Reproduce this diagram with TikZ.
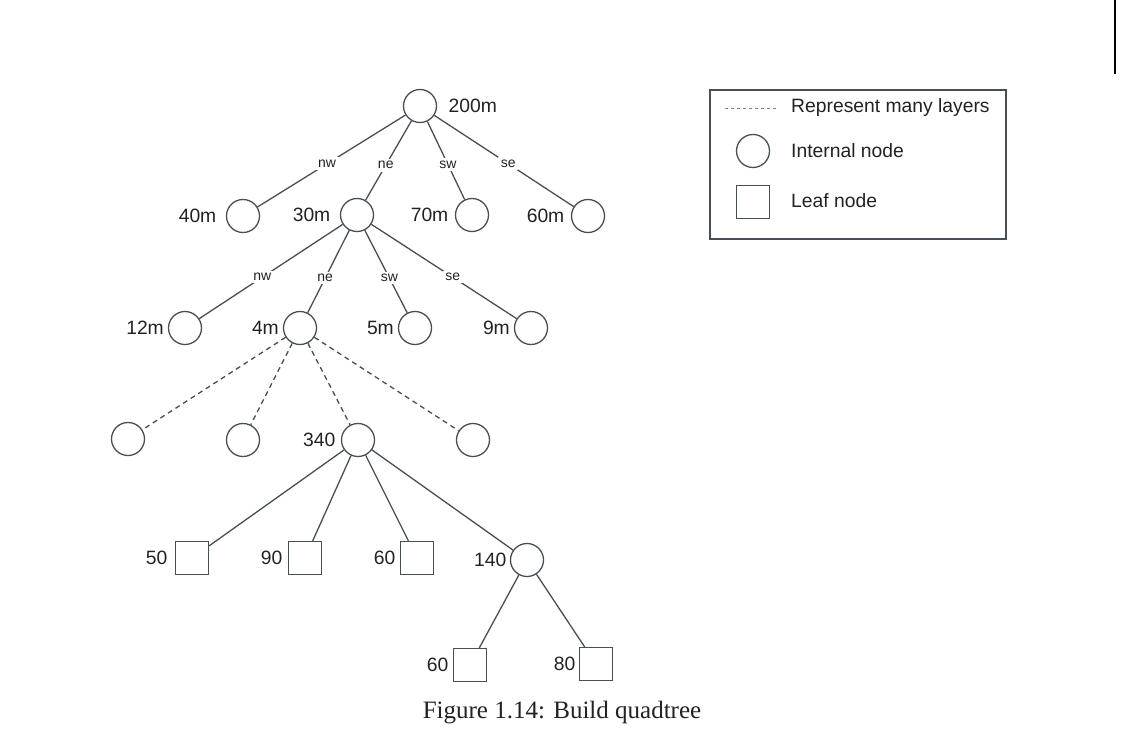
\documentclass[tikz,border=0pt]{standalone}
\usepackage{fontspec}
\setmainfont{Liberation Sans}
\newfontfamily\capfont{Liberation Serif}
\definecolor{linec}{HTML}{464E58}
\definecolor{txtc}{HTML}{222222}
\begin{document}
\begin{tikzpicture}[x=1pt,y=-1pt,
  inode/.style={circle,draw=linec,line width=1.3pt,minimum size=33pt,inner sep=0pt},
  lnode/.style={rectangle,draw=linec,line width=1.3pt,minimum size=33pt,inner sep=0pt},
  edge/.style={draw=linec,line width=1.3pt},
  dedge/.style={draw=linec,line width=1.3pt,dash pattern=on 5pt off 4pt},
  elab/.style={fill=white,inner sep=2.5pt,font=\fontsize{14}{15}\selectfont,text=txtc},
  lbl/.style={font=\fontsize{19.3}{21}\selectfont,text=txtc},
  every label/.style={lbl},
  far/.style={label distance=6pt},
  near/.style={label distance=0.5pt}
]
\useasboundingbox (0,0) rectangle (1123,749);

% scan edge bar
\coordinate (barA) at (1115,0);
\coordinate (barB) at (1115,74);
\draw[line width=2.5pt,black] (barA) -- (barB);

% level 0
\node[inode,label={[label distance=8pt]right:200m}] (r) at (420,106) {};
% level 1
\node[inode,label={[far]left:40m}] (a1) at (243,216) {};
\node[inode,label={[far]left:30m}] (a2) at (357,215) {};
\node[inode,label={[label distance=3pt]left:70m}] (a3) at (472,215) {};
\node[inode,label={[label distance=3pt]left:60m}] (a4) at (588,216) {};
% level 2
\node[inode,label={[near]left:12m}] (b1) at (185,328) {};
\node[inode,label={[near]left:4m}] (b2) at (300,328) {};
\node[inode,label={[near]left:5m}] (b3) at (415,328) {};
\node[inode,label={[near]left:9m}] (b4) at (531,328) {};
% level 3
\node[inode] (c1) at (128,439) {};
\node[inode] (c2) at (243,440) {};
\node[inode,label={[label distance=2pt]left:340}] (c3) at (358,440) {};
\node[inode] (c4) at (473,440) {};
% level 4
\node[lnode,label={[label distance=4pt]left:50}] (d1) at (192,558) {};
\node[lnode,label={[label distance=2pt]left:90}] (d2) at (305,558) {};
\node[lnode,label={[label distance=1pt]left:60}] (d3) at (417,558) {};
\node[inode,label={[label distance=0pt]left:140}] (d4) at (527,560) {};
% level 5
\node[lnode,label={[label distance=1pt]left:60}] (e1) at (470,665) {};
\node[lnode,label={[label distance=0pt]left:80}] (e2) at (596,664) {};

% edges level 0 -> 1
\draw[edge] (r) -- node[elab,pos=0.53] (l1) {nw} (a1);
\draw[edge] (r) -- node[elab,pos=0.56] (l2) {ne} (a2);
\draw[edge] (r) -- node[elab,pos=0.55] (l3) {sw} (a3);
\draw[edge] (r) -- node[elab,pos=0.53] (l4) {se} (a4);
% edges level 1 -> 2
\draw[edge] (a2) -- node[elab,pos=0.56] (m1) {nw} (b1);
\draw[edge] (a2) -- node[elab,pos=0.58] (m2) {ne} (b2);
\draw[edge] (a2) -- node[elab,pos=0.58] (m3) {sw} (b3);
\draw[edge] (a2) -- node[elab,pos=0.56] (m4) {se} (b4);
% dashed level 2 -> 3
\draw[dedge] (b2) -- (c1);
\draw[dedge] (b2) -- (c2);
\draw[dedge] (b2) -- (c3);
\draw[dedge] (b2) -- (c4);
% level 3 -> 4
\draw[edge] (c3) -- (d1);
\draw[edge] (c3) -- (d2);
\draw[edge] (c3) -- (d3);
\draw[edge] (c3) -- (d4);
% level 4 -> 5
\draw[edge] (d4) -- (e1);
\draw[edge] (d4) -- (e2);

% legend
\node[draw=linec,line width=1.1pt,minimum width=296pt,minimum height=149pt,inner sep=0pt] (legend) at (858,164.5) {};
\coordinate (lgA) at (725,108);
\coordinate (lgB) at (777,108);
\draw[draw=linec!70,line width=0.9pt,dash pattern=on 3pt off 3pt] (lgA) -- (lgB);
\node[lbl,anchor=west,inner sep=0pt] (t1) at (791,108) {Represent many layers};
\node[inode] (lc) at (753,151) {};
\node[lbl,anchor=west,inner sep=0pt] (t2) at (791,151) {Internal node};
\node[lnode] (ls) at (753,202) {};
\node[lbl,anchor=west,inner sep=0pt] (t3) at (791,201) {Leaf node};

% caption
\node[font=\capfont\fontsize{25}{27}\selectfont,text=txtc,anchor=base,inner sep=0pt] (cap) at (562,718) {Figure 1.14: Build quadtree};
\end{tikzpicture}
\end{document}
